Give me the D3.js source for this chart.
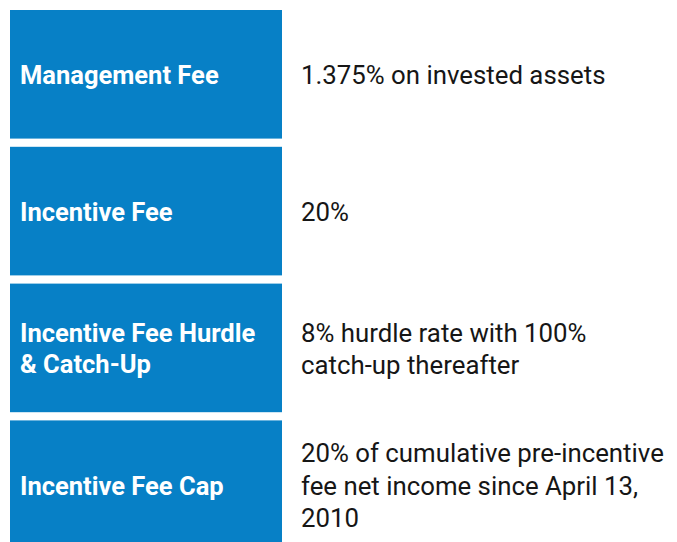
<!DOCTYPE html>
<html>
<head>
<meta charset="utf-8">
<script src="https://cdn.jsdelivr.net/npm/d3@7"></script>
<style>
  body { margin: 0; background: #fff; }
  svg { display: block; }
</style>
</head>
<body>
<div id="chart"></div>
<script>
// fee terms, one row each
const terms = ["Management Fee", "Incentive Fee", "Incentive Fee Hurdle & Catch-Up", "Incentive Fee Cap"];
const termLines = [["Management Fee"], ["Incentive Fee"], ["Incentive Fee Hurdle", "& Catch-Up"], ["Incentive Fee Cap"]];
const detailLines = [
  ["1.375% on invested assets"],
  ["20%"],
  ["8% hurdle rate with 100%", "catch-up thereafter"],
  ["20% of cumulative pre-incentive", "fee net income since April 13,", "2010"]
];

const width = 677, height = 542;
const blue = "#0780c6";
const lineHeight = 32.5;

const svg = d3.select("#chart").append("svg")
  .attr("width", width)
  .attr("height", height);

// rows, the last one runs off the bottom
const y = d3.scaleBand()
  .domain(terms)
  .range([10, 549])
  .paddingInner(0.06)
  .paddingOuter(0);

const x = d3.scaleOrdinal()
  .domain(["term", "detail"])
  .range([20, 301]);

const rows = svg.selectAll(".row")
  .data(terms)
  .enter()
  .append("g")
  .attr("class", "row");

rows.append("rect")
  .attr("x", 10)
  .attr("y", (d) => y(d))
  .attr("width", 272)
  .attr("height", y.bandwidth())
  .attr("fill", blue);

function lineY(d, lines, i) {
  const mid = y(d) + y.bandwidth() / 2;
  return mid + (i - (lines.length - 1) / 2) * lineHeight + 10;
}

rows.each(function (d, r) {
  const g = d3.select(this);

  g.append("text")
    .attr("font-family", "Roboto, sans-serif")
    .attr("font-weight", "bold")
    .attr("font-size", "25.5px")
    .attr("fill", "#fff")
    .selectAll("tspan")
    .data(termLines[r])
    .enter()
    .append("tspan")
    .attr("x", x("term"))
    .attr("y", (t, i) => lineY(d, termLines[r], i) - (termLines[r].length > 1 ? (i === 0 ? -0.5 : 1) : 0))
    .text((t) => t);

  g.append("text")
    .attr("font-family", "Roboto, sans-serif")
    .attr("font-size", "25.8px")
    .attr("fill", "#161616")
    .selectAll("tspan")
    .data(detailLines[r])
    .enter()
    .append("tspan")
    .attr("x", x("detail"))
    .attr("y", (t, i) => lineY(d, detailLines[r], i))
    .text((t) => t);
});
</script>
</body>
</html>
